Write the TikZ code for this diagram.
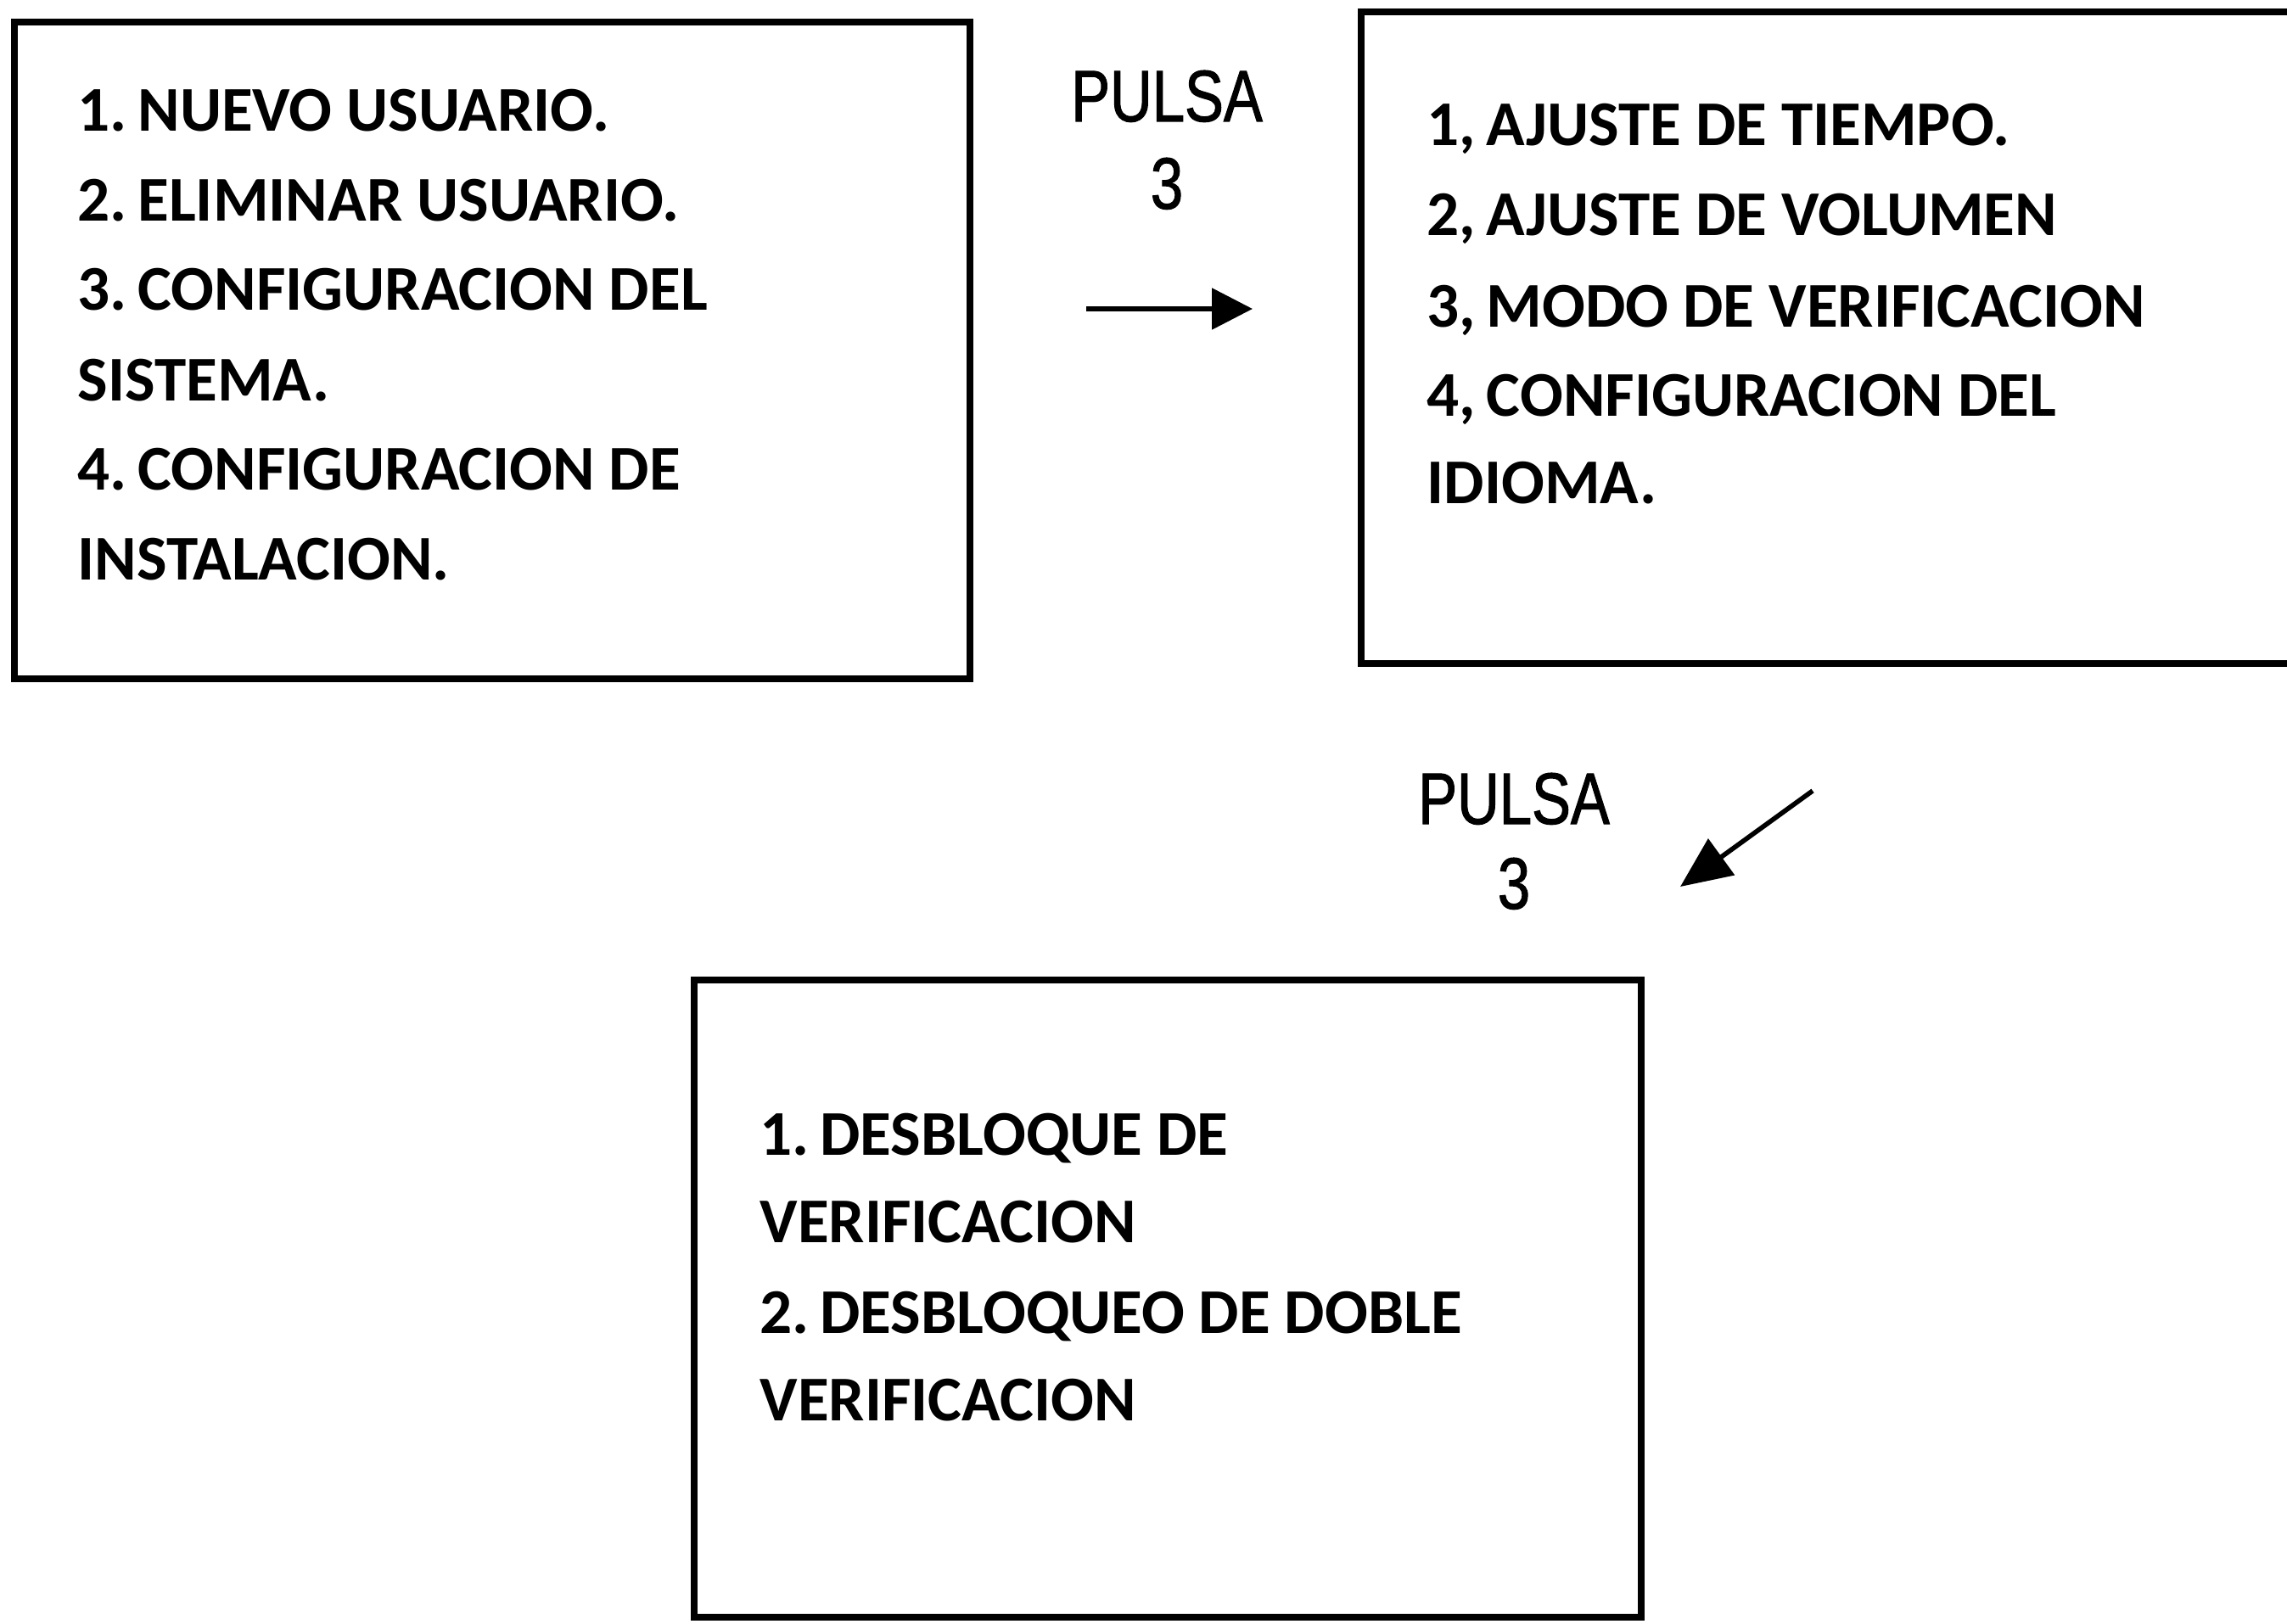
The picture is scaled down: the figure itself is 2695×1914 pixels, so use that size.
\documentclass[tikz,border=0pt]{standalone}
\usepackage{fontspec}
\setmainfont{Carlito}
\newfontfamily\pulsafont[FakeStretch=0.8,FakeBold=1.2]{Liberation Sans}
\usetikzlibrary{arrows.meta,fit}
\tikzset{
  menubox/.style={draw=black, line width=1.8pt, inner sep=0pt, fill=none},
  itemline/.style={anchor=base west, inner sep=0pt, font=\bfseries\fontsize{18.8}{22}\selectfont},
  pulsalabel/.style={anchor=base, inner sep=0pt, font=\pulsafont\fontsize{21.5}{24}\selectfont},
  arr/.style={line width=1.4pt, -{Triangle[length=12pt,width=12pt]}},
  arrb/.style={line width=1.4pt, -{Triangle[length=15pt,width=13pt]}}
}
\begin{document}
\begin{tikzpicture}[x=0.25pt,y=-0.25pt]
\useasboundingbox (0,0) rectangle (2695,1914);
\clip (0,0) rectangle (2695,1914);
\fill[white] (0,0) rectangle (2695,1914);
% boxes
\node[menubox, fit={(17,26) (1143,800)}] (boxA) {};
\node[menubox, fit={(1604,14) (2730,782)}] (boxB) {};
\node[menubox, fit={(818,1155) (1934,1906)}] (boxC) {};
% box A text
\node[itemline] (a1) at (91,155) {1.\,NUEVO USUARIO.};
\node[itemline] (a2) at (91,261) {2.\,ELIMINAR USUARIO.};
\node[itemline] (a3) at (91,366) {3.\,CONFIGURACION DEL};
\node[itemline] (a4) at (91,472) {SISTEMA.};
\node[itemline] (a5) at (91,577) {4.\,CONFIGURACION DE};
\node[itemline] (a6) at (91,683) {INSTALACION.};
% box B text
\node[itemline] (b1) at (1681,172) {1,\,AJUSTE DE TIEMPO.};
\node[itemline] (b2) at (1681,278) {2,\,AJUSTE DE VOLUMEN};
\node[itemline] (b3) at (1681,385) {3,\,MODO DE VERIFICACION};
\node[itemline] (b4) at (1681,490) {4,\,CONFIGURACION DEL};
\node[itemline] (b5) at (1681,593) {IDIOMA.};
% box C text
\node[itemline] (c1) at (895,1361) {1.\,DESBLOQUE DE};
\node[itemline] (c2) at (895,1464) {VERIFICACION};
\node[itemline] (c3) at (895,1571) {2.\,DESBLOQUEO DE DOBLE};
\node[itemline] (c4) at (895,1674) {VERIFICACION};
% labels
\node[pulsalabel] (p1) at (1375,143) {PULSA};
\node[pulsalabel] (p1n) at (1375,246) {3};
\node[pulsalabel] (p2) at (1784,971) {PULSA};
\node[pulsalabel] (p2n) at (1784,1071) {3};
% arrows
\coordinate (ar1s) at (1280,364);
\coordinate (ar1e) at (1476,364);
\draw[arr] (ar1s) -- (ar1e);
\coordinate (ar2s) at (2136,932);
\coordinate (ar2e) at (1980,1045);
\draw[arrb] (ar2s) -- (ar2e);
\end{tikzpicture}
\end{document}
